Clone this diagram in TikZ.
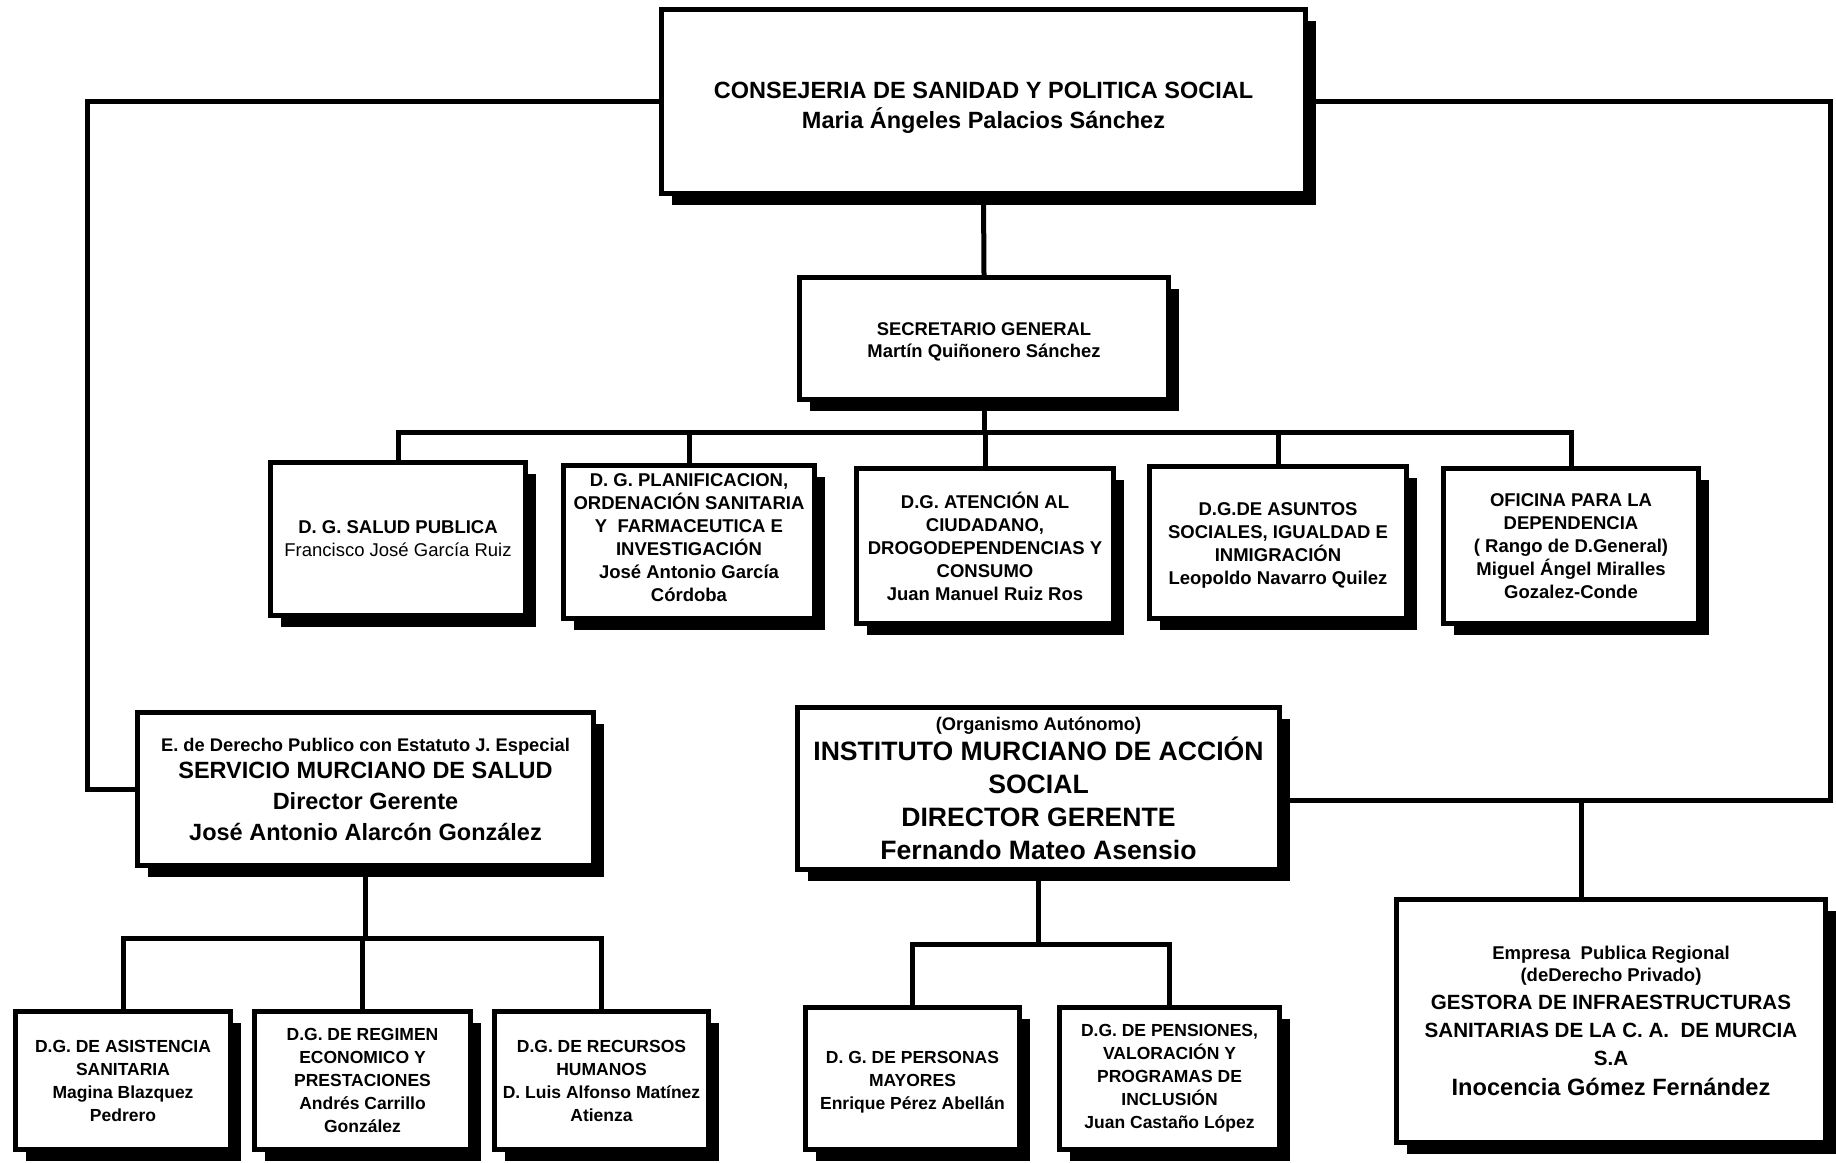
\documentclass[tikz,border=0pt]{standalone}
\usepackage{fontspec}
\setmainfont{Liberation Sans}
\usetikzlibrary{shadows}
\begin{document}
\begin{tikzpicture}[x=1pt,y=-1pt,
  orgbox/.style={draw, line width=5pt, fill=white, align=center, inner sep=0pt,
    font=\bfseries,
    drop shadow={shadow xshift=10pt, shadow yshift=-11pt, opacity=1, fill=black}},
  conn/.style={line width=5pt, line join=miter},
  fsA/.style={font=\fontsize{23.5}{30.4}\selectfont\bfseries},
  fsSec/.style={font=\fontsize{18.4}{22.5}\selectfont\bfseries},
  fsRow/.style={font=\fontsize{18.5}{23}\selectfont\bfseries},
  fsBot/.style={font=\fontsize{17.5}{23}\selectfont\bfseries},
  fsSMS/.style={font=\fontsize{23.5}{31}\selectfont\bfseries},
  fsIMAS/.style={font=\fontsize{26.6}{32.8}\selectfont\bfseries},
  fsGest/.style={font=\fontsize{20.6}{28}\selectfont\bfseries}
]
\fill[white] (0,0) rectangle (1836,1162);

% nodes
\node[orgbox, fsA, minimum width=644, minimum height=184] (top) at (983.5,101.5)
  {\rule{0pt}{29pt}CONSEJERIA DE SANIDAD Y POLITICA SOCIAL\\ Maria Ángeles Palacios Sánchez};
\node[orgbox, fsSec, minimum width=369, minimum height=122] (sec) at (984,338.5)
  {\rule{0pt}{20pt}SECRETARIO GENERAL\\ Martín Quiñonero Sánchez};

\node[orgbox, fsRow, minimum width=255, minimum height=153] (b1) at (398,539)
  {D. G. SALUD PUBLICA\\ {\mdseries Francisco José García Ruiz}};
\node[orgbox, fsRow, minimum width=251, minimum height=153] (b2) at (689,542)
  {D. G. PLANIFICACION,\\ ORDENACIÓN SANITARIA\\ Y~ FARMACEUTICA E\\ INVESTIGACIÓN\\ José Antonio García\\ Córdoba\rule[-9pt]{0pt}{9pt}};
\node[orgbox, fsRow, minimum width=257, minimum height=155] (b3) at (985,546)
  {D.G. ATENCIÓN AL\\ CIUDADANO,\\ DROGODEPENDENCIAS Y\\ CONSUMO\\ Juan Manuel Ruiz Ros};
\node[orgbox, fsRow, minimum width=257, minimum height=152] (b4) at (1278,542.5)
  {\rule{0pt}{19pt}D.G.DE ASUNTOS\\ SOCIALES, IGUALDAD E\\ INMIGRACIÓN\\ Leopoldo Navarro Quilez};
\node[orgbox, fsRow, minimum width=255, minimum height=155] (b5) at (1571,546)
  {OFICINA PARA LA\\ DEPENDENCIA\\ ( Rango de D.General)\\ Miguel Ángel Miralles\\ Gozalez-Conde};

\node[orgbox, fsSMS, minimum width=456, minimum height=153] (sms) at (365.5,789)
  {{\fontsize{18.3}{22}\selectfont E. de Derecho Publico con Estatuto J. Especial}\\[-4pt]
   SERVICIO MURCIANO DE SALUD\\ Director Gerente\\ José Antonio Alarcón González};
\node[orgbox, fsIMAS, minimum width=482, minimum height=162] (imas) at (1038.5,788.5)
  {{\fontsize{18.3}{22}\selectfont (Organismo Autónomo)}\\[-3pt]
   INSTITUTO MURCIANO DE ACCIÓN\\ SOCIAL\\ DIRECTOR GERENTE\\ Fernando Mateo Asensio};
\node[orgbox, fsGest, minimum width=429, minimum height=243] (gest) at (1611,1021)
  {{\fontsize{18.5}{22}\selectfont Empresa~ Publica Regional}\\[-6pt]
   {\fontsize{18.5}{22}\selectfont (deDerecho Privado)}\\
   GESTORA DE INFRAESTRUCTURAS\\ SANITARIAS DE LA C. A.~ DE MURCIA\\ S.A\\[2.5pt]
   {\fontsize{23.6}{28}\selectfont Inocencia Gómez Fernández}};

\node[orgbox, fsBot, minimum width=215, minimum height=138] (c1) at (123,1080.5)
  {D.G. DE ASISTENCIA\\ SANITARIA\\ Magina Blazquez\\ Pedrero};
\node[orgbox, fsBot, minimum width=216, minimum height=138] (c2) at (362.5,1080.5)
  {D.G. DE REGIMEN\\ ECONOMICO Y\\ PRESTACIONES\\ Andrés Carrillo\\ González};
\node[orgbox, fsBot, minimum width=214, minimum height=138] (c3) at (601.5,1080.5)
  {D.G. DE RECURSOS\\ HUMANOS\\ D. Luis Alfonso Matínez\\ Atienza};
\node[orgbox, fsBot, minimum width=214, minimum height=142] (d1) at (912.5,1078.5)
  {\rule{0pt}{20pt}D. G. DE PERSONAS\\ MAYORES\\ Enrique Pérez Abellán};
\node[orgbox, fsBot, minimum width=220, minimum height=142] (d2) at (1169.5,1078.5)
  {D.G. DE PENSIONES,\\ VALORACIÓN Y\\ PROGRAMAS DE\\ INCLUSIÓN\\ Juan Castaño López};

% connectors
\coordinate (bus) at (984,432);
\coordinate (lc) at (87,789);
\coordinate (rc) at (1830,800);
\coordinate (gc) at (1581,800);
\coordinate (sbus) at (365,938);
\coordinate (ibus) at (1038,944);

\draw[conn] (top.south) -- (sec.north);
\draw[conn] (sec.south) -- (bus);
\draw[conn] (b1.north) -- (b1.north |- bus) -- (b5.north |- bus) -- (b5.north);
\foreach \b in {b2,b3,b4} \draw[conn] (\b.north) -- (\b.north |- bus);

\draw[conn] (top.west) -| (lc) -- (sms.west);
\draw[conn] (top.east) -| (rc) -- (imas.east |- rc);
\draw[conn] (gc) -- (gc |- gest.north);

\draw[conn] (sms.south) -- (sms.south |- sbus);
\draw[conn] (c1.north) -- (c1.north |- sbus) -- (c3.north |- sbus) -- (c3.north);
\draw[conn] (c2.north) -- (c2.north |- sbus);

\draw[conn] (imas.south) -- (imas.south |- ibus);
\draw[conn] (d1.north) -- (d1.north |- ibus) -- (d2.north |- ibus) -- (d2.north);

\pgfresetboundingbox
\useasboundingbox (0,0) rectangle (1836,1162);
\end{tikzpicture}
\end{document}
